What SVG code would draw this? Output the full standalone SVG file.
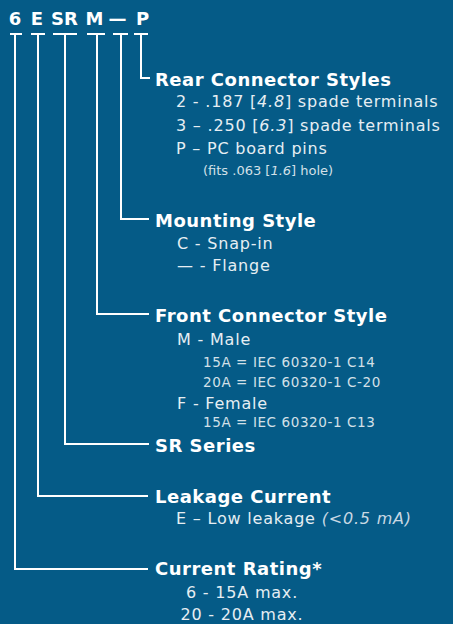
<svg xmlns="http://www.w3.org/2000/svg" width="453" height="624" viewBox="0 0 453 624">
<style>
text{font-family:"DejaVu Sans","Open Sans","Liberation Sans",sans-serif;}
.code{font-size:18px;font-weight:700;fill:#fff;text-anchor:middle;}
.h{font-size:18px;font-weight:700;fill:#fff;letter-spacing:0.5px;}
.s{font-size:16px;fill:#e6eef3;letter-spacing:0.8px;}
.t{font-size:13.5px;fill:#d3e0e8;letter-spacing:0.6px;}
.f{font-size:13px;fill:#d3e0e8;}
.i{font-style:italic;}
.conn path{fill:none;stroke:#fff;stroke-width:2;}
</style>
<rect width="453" height="624" fill="#055b87"/>
<g id="code">
<text class="code" x="15" y="25">6</text>
<text class="code" x="37" y="25">E</text>
<text class="code" x="64.5" y="25">SR</text>
<text class="code" x="94.5" y="25">M</text>
<text class="code" x="117.5" y="25">—</text>
<text class="code" x="142.5" y="25">P</text>
</g>
<g class="conn" id="connectors">
<path d="M10 34H22M15 34V569H148"/>
<path d="M31 34H45M38 34V496H148"/>
<path d="M53 34H77M65 34V444H149"/>
<path d="M87 34H105M97 34V314H149"/>
<path d="M113 34H128M121 34V219H149"/>
<path d="M134 34H148M141 34V78H150"/>
</g>
<g id="rear">
<text class="h" x="155" y="86">Rear Connector Styles</text>
<text class="s" x="176" y="107">2 - .187 [<tspan class="i">4.8</tspan>] spade terminals</text>
<text class="s" x="176" y="131">3 – .250 [<tspan class="i">6.3</tspan>] spade terminals</text>
<text class="s" x="176" y="154">P – PC board pins</text>
<text class="f" x="203" y="175">(fits .063 [<tspan class="i">1.6</tspan>] hole)</text>
</g>
<g id="mounting">
<text class="h" x="155" y="227">Mounting Style</text>
<text class="s" x="177" y="249">C - Snap-in</text>
<text class="s" x="177" y="271">— - Flange</text>
</g>
<g id="front">
<text class="h" x="155" y="322">Front Connector Style</text>
<text class="s" x="177" y="345">M - Male</text>
<text class="t" x="203" y="367">15A = IEC 60320-1 C14</text>
<text class="t" x="203" y="387">20A = IEC 60320-1 C-20</text>
<text class="s" x="177" y="409">F - Female</text>
<text class="t" x="203" y="427">15A = IEC 60320-1 C13</text>
</g>
<g id="series">
<text class="h" x="155" y="452">SR Series</text>
</g>
<g id="leakage">
<text class="h" x="155" y="503">Leakage Current</text>
<text class="s" x="176" y="524">E – Low leakage <tspan class="i" fill="#c8d8e3">(&lt;0.5 mA)</tspan></text>
</g>
<g id="rating">
<text class="h" x="155" y="575">Current Rating*</text>
<text class="s" x="242" y="598" text-anchor="middle">6 - 15A max.</text>
<text class="s" x="242" y="620" text-anchor="middle">20 - 20A max.</text>
</g>
</svg>
